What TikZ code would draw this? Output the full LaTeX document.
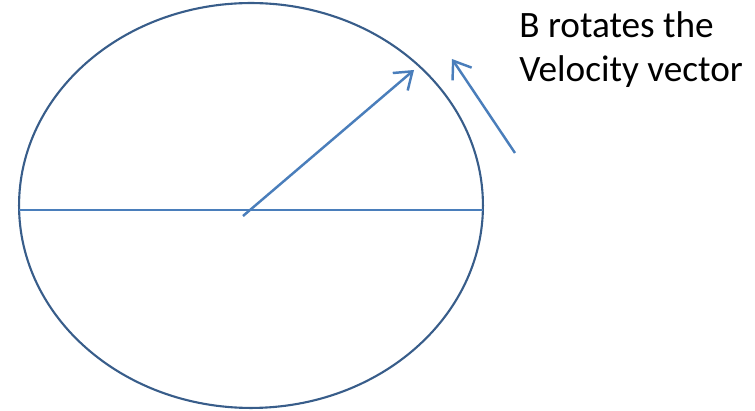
\documentclass[tikz,border=0pt]{standalone}
\usepackage{fontspec}
\setmainfont{Carlito}
\usetikzlibrary{arrows.meta,shapes.geometric}
\definecolor{rimblue}{HTML}{385D8A}
\definecolor{vecblue}{HTML}{4A7EBB}

\begin{document}
\begin{tikzpicture}[
    x=0.02cm, y=-0.02cm,
    rim/.style={draw=rimblue, line width=1.2pt},
    vec/.style={draw=vecblue, line width=1.4pt, -{Straight Barb[length=3.2mm, width=4.6mm, line width=1.4pt]}},
    axis/.style={draw=vecblue, line width=1.4pt},
    note/.style={anchor=base west, inner sep=0pt, align=left, font=\fontsize{21.2}{25.5}\selectfont},
  ]
    \useasboundingbox (0,0) rectangle (755,411);
    \node[rim, ellipse, inner sep=0pt, minimum width=9.28cm, minimum height=8.1cm] (orbit) at (251,205.5) {};
    \coordinate (left) at (19,210);
    \coordinate (right) at (483,210);
    \draw[axis] (left) -- (right);

    \coordinate (origin) at (243,216);
    \coordinate (vtip) at (414,70);
    \draw[vec] (origin) -- (vtip);

    \coordinate (rotfoot) at (515,153);
    \coordinate (rottip) at (452,59);
    \draw[vec] (rotfoot) -- (rottip);

    \node[note] (label) at (519,82) {B rotates the\\Velocity vector};
  \end{tikzpicture}
\end{document}
